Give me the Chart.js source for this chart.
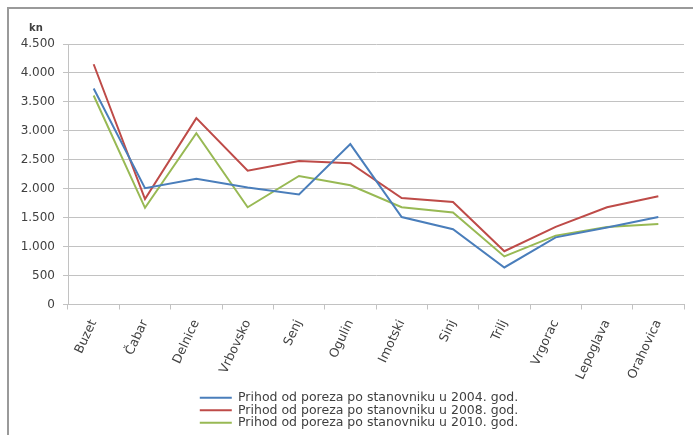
<!DOCTYPE html>
<html>
<head>
<meta charset="utf-8">
<title>Prihod od poreza po stanovniku</title>
<script src="https://cdn.jsdelivr.net/npm/chart.js@4/dist/chart.umd.min.js"></script>
<style>
  html, body { margin: 0; padding: 0; background: #ffffff; overflow: hidden; width: 693px; height: 435px; }
  #frame {
    position: absolute; left: 7px; top: 7px;
    width: 684px; height: 430px;
    border: 0;
    border-top: 2px solid #9a9a9a; border-left: 2px solid #9a9a9a;
    background: #ffffff; overflow: hidden;
  }
  #chart { display: block; }
</style>
</head>
<body>
<div id="frame"><canvas id="chart" width="684" height="430"></canvas></div>
<script>
// Towns on the category axis
const towns = ['Buzet', 'Čabar', 'Delnice', 'Vrbovsko', 'Senj', 'Ogulin',
               'Imotski', 'Sinj', 'Trilj', 'Vrgorac', 'Lepoglava', 'Orahovica'];

// Tax revenue per inhabitant (kn)
const revenue2004 = [3730, 2010, 2170, 2020, 1900, 2770, 1510, 1300, 640, 1160, 1330, 1510];
const revenue2008 = [4150, 1820, 3220, 2310, 2480, 2440, 1840, 1770, 920, 1340, 1680, 1870];
const revenue2010 = [3610, 1670, 2960, 1680, 2220, 2060, 1680, 1590, 830, 1190, 1340, 1390];

const seriesLabels = [
  'Prihod od poreza po stanovniku u 2004. god.',
  'Prihod od poreza po stanovniku u 2008. god.',
  'Prihod od poreza po stanovniku u 2010. god.'
];

// Value axis ticks
const yTicks = [0, 500, 1000, 1500, 2000, 2500, 3000, 3500, 4000, 4500];
const unitLabel = 'kn';

const FONT = "'DejaVu Sans', sans-serif";
const TEXT = '#404040';
const GRID = '#c2c2c2';

// thousands separated with a dot: 4500 -> "4.500"
function fmt(v) {
  return String(v).replace(/\B(?=(\d{3})+(?!\d))/g, '.');
}

// small placement tweaks: unit label above the value axis, legend a bit left of centre
const blockNudge = {
  id: 'blockNudge',
  afterLayout(chart) {
    if (chart.titleBlock) chart.titleBlock.left += 9;
    if (chart.legend) chart.legend.left -= 34;
  }
};

function line(label, data, color) {
  return {
    label, data,
    borderColor: color, backgroundColor: color,
    borderWidth: 2, pointRadius: 0, pointHoverRadius: 0,
    tension: 0, fill: false
  };
}

new Chart(document.getElementById('chart'), {
  type: 'line',
  data: {
    labels: towns,
    datasets: [
      line(seriesLabels[0], revenue2004, '#4a7ebb'),
      line(seriesLabels[1], revenue2008, '#be4b48'),
      line(seriesLabels[2], revenue2010, '#98b954')
    ]
  },
  plugins: [blockNudge],
  options: {
    responsive: false,
    animation: false,
    events: [],
    layout: { padding: { left: 11, right: 9, top: 13, bottom: 0 } },
    plugins: {
      tooltip: { enabled: false },
      title: {
        display: true, text: unitLabel, align: 'start',
        color: TEXT, font: { family: FONT, size: 10, weight: 'bold' },
        padding: { top: 0, bottom: 10 }
      },
      legend: {
        position: 'bottom', fullSize: false,
        labels: {
          usePointStyle: true, pointStyle: 'line', pointStyleWidth: 32,
          padding: 0, color: TEXT,
          font: { family: FONT, size: 12.5 }
        }
      }
    },
    scales: {
      x: {
        offset: true,
        afterFit(scale) { scale.height = 87; },
        border: { display: true, color: GRID, width: 1 },
        grid: { display: true, offset: true, drawOnChartArea: false, drawTicks: true, tickLength: 5, color: GRID },
        ticks: {
          autoSkip: false, minRotation: 65, maxRotation: 65, padding: 8,
          color: TEXT, font: { family: FONT, size: 12.5 }
        }
      },
      y: {
        min: yTicks[0], max: yTicks[yTicks.length - 1],
        afterFit(scale) { scale.width = 48; },
        afterBuildTicks(scale) { scale.ticks = yTicks.map(v => ({ value: v })); },
        border: { display: true, color: GRID, width: 1 },
        grid: { color: GRID, lineWidth: 1, tickLength: 5 },
        ticks: {
          padding: 8, color: TEXT, font: { family: FONT, size: 12 },
          callback: v => fmt(v)
        }
      }
    }
  }
});
</script>
</body>
</html>
